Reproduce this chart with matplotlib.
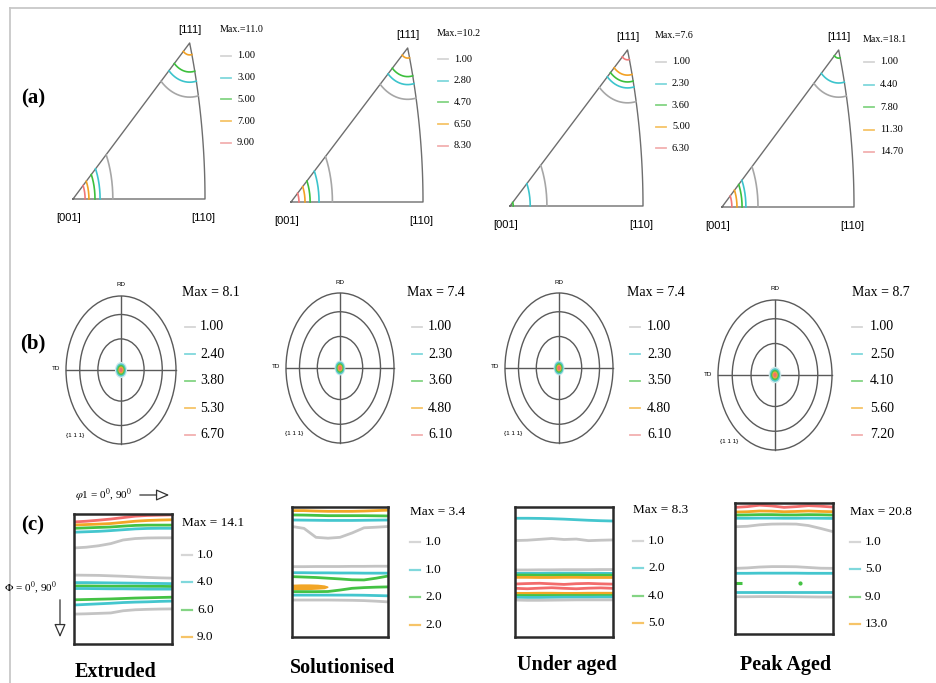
import numpy as np
import matplotlib
matplotlib.use('Agg')
import matplotlib.pyplot as plt
from matplotlib.patches import Ellipse

W, H = 936, 683
plt.rcParams['mathtext.fontset'] = 'stix'
SERIF = 'Liberation Serif'
SANS = 'Liberation Sans'

# ---- data ----
conditions = ['Extruded', 'Solutionised', 'Under aged', 'Peak Aged']

# (a) inverse pole figures [ND]
ipf_max = [11.0, 10.2, 7.6, 18.1]
ipf_levels = [[1.00, 3.00, 5.00, 7.00, 9.00],
              [1.00, 2.80, 4.70, 6.50, 8.30],
              [1.00, 2.30, 3.60, 5.00, 6.30],
              [1.00, 4.40, 7.80, 11.30, 14.70]]
# contour distance from the [001] and [111] poles (stereographic units), per level
ipf_r001 = [[0.125, 0.085, 0.069, 0.050, 0.038],
            [0.130, 0.088, 0.060, 0.044, 0.025],
            [0.115, 0.063, 0.010, None, None],
            [0.113, 0.075, 0.063, 0.047, 0.031]]
ipf_r111 = [[0.127, 0.092, 0.068, 0.028, None],
            [0.122, 0.087, 0.068, 0.024, None],
            [0.124, 0.089, 0.075, 0.059, 0.023],
            [0.110, 0.077, 0.019, None, None]]

# (b) {111} pole figures
pf_max = [8.1, 7.4, 7.4, 8.7]
pf_levels = [[1.00, 2.40, 3.80, 5.30, 6.70],
             [1.00, 2.30, 3.60, 4.80, 6.10],
             [1.00, 2.30, 3.50, 4.80, 6.10],
             [1.00, 2.50, 4.10, 5.60, 7.20]]
# size of the central intensity spot per level (fraction of the pole figure radius)
pf_spot = [[0.11, 0.090, 0.070, 0.048, 0.028],
           [0.10, 0.085, 0.065, 0.045, 0.028],
           [0.10, 0.085, 0.065, 0.045, 0.028],
           [0.11, 0.090, 0.070, 0.048, 0.028]]

# (c) ODF sections, contour lines as Phi (deg) at each phi1 (deg)
odf_max = [14.1, 3.4, 8.3, 20.8]
odf_levels = [[1.0, 4.0, 6.0, 9.0],
              [1.0, 1.0, 2.0, 2.0],
              [1.0, 2.0, 4.0, 5.0],
              [1.0, 5.0, 9.0, 13.0]]
phi1 = [0, 11.25, 22.5, 33.75, 45, 56.25, 67.5, 78.75, 90]

ext_lines = [
    (4, [5.5, 5.0, 4.3, 3.5, 2.5, 1.5, 1.0, 0.8, 0.6]),
    (3, [7.6, 7.3, 7.0, 6.6, 5.8, 5.0, 4.5, 4.2, 4.0]),
    (2, [9.9, 9.6, 9.3, 9.0, 8.4, 7.9, 7.7, 7.7, 7.7]),
    (1, [12.6, 12.3, 12.0, 11.5, 10.9, 10.3, 10.0, 9.9, 9.9]),
    (0, [23.5, 23.0, 22.0, 20.5, 18.0, 17.0, 16.6, 16.5, 16.5]),
    (0, [42.3, 42.4, 42.5, 42.8, 43.1, 43.5, 43.9, 44.2, 44.4]),
    (1, [47.5, 47.5, 47.6, 47.7, 47.8, 47.9, 48.0, 48.1, 48.2]),
    (2, [49.8, 49.8, 49.9, 50.0, 50.0, 50.0, 50.1, 50.1, 50.2]),
    (1, [51.6, 51.6, 51.7, 51.8, 51.8, 51.9, 52.0, 52.0, 52.0]),
    (2, [59.4, 59.2, 59.0, 58.8, 58.5, 58.2, 58.0, 57.8, 57.6]),
    (1, [63.0, 62.6, 62.2, 61.8, 61.3, 61.0, 60.8, 60.5, 60.3]),
    (0, [69.3, 69.1, 68.8, 68.5, 67.0, 66.3, 66.0, 65.8, 65.7]),
]
sol_lines = [
    (3, [2.5, 2.5, 2.8, 3.0, 3.0, 3.0, 2.8, 2.5, 2.2]),
    (2, [5.5, 5.6, 5.8, 6.0, 6.0, 6.0, 6.0, 6.1, 6.2]),
    (1, [9.0, 9.1, 9.2, 9.3, 9.3, 9.3, 9.2, 9.1, 9.0]),
    (0, [13.5, 14.8, 21.0, 21.6, 21.0, 18.0, 14.4, 14.0, 13.5]),
    (0, [41.3, 41.3, 41.2, 41.2, 41.2, 41.1, 41.1, 41.0, 41.0]),
    (1, [45.5, 45.5, 45.6, 45.6, 45.7, 45.7, 45.8, 45.8, 45.8]),
    (2, [48.2, 48.5, 48.8, 49.3, 49.8, 50.4, 50.5, 49.3, 47.8]),
    (2, [58.6, 58.6, 58.6, 58.5, 57.5, 56.3, 55.8, 55.5, 55.3]),
    (1, [61.0, 61.0, 61.0, 61.0, 61.0, 61.0, 61.1, 61.3, 61.5]),
    (0, [64.4, 64.4, 64.4, 64.4, 64.5, 64.6, 64.8, 65.2, 65.7]),
]
# closed level-4 region in the solutionised section
sol_spot_phi1 = [0, 8, 16, 24, 30, 33]
sol_spot_top = [54.0, 53.8, 53.8, 54.0, 54.5, 55.2]
sol_spot_bot = [56.8, 56.8, 56.6, 56.3, 56.0, 55.2]

ua_lines = [
    (1, [7.8, 7.8, 7.9, 8.1, 8.4, 8.8, 9.2, 9.5, 9.7]),
    (0, [23.2, 23.0, 22.4, 21.8, 22.5, 22.2, 23.3, 23.0, 22.8]),
    (0, [43.6, 43.6, 43.5, 43.5, 43.4, 43.4, 43.4, 43.3, 43.3]),
    (1, [45.9, 45.9, 45.9, 45.8, 45.8, 45.8, 45.9, 45.9, 46.0]),
    (2, [47.1, 47.1, 47.2, 47.2, 47.1, 47.1, 47.2, 47.2, 47.2]),
    (3, [48.7, 48.7, 48.8, 48.8, 48.7, 48.7, 48.8, 48.8, 48.8]),
    (4, [53.3, 53.0, 52.8, 53.2, 53.6, 53.1, 52.9, 53.2, 53.4]),
    (4, [56.3, 56.6, 56.2, 55.9, 56.3, 56.6, 56.2, 56.0, 56.3]),
    (3, [59.8, 59.8, 59.7, 59.7, 59.8, 59.8, 59.7, 59.7, 59.7]),
    (2, [60.9, 60.9, 60.9, 60.9, 60.9, 60.9, 60.9, 60.9, 60.9]),
    (1, [62.5, 62.6, 62.6, 62.5, 62.4, 62.4, 62.4, 62.3, 62.3]),
    (0, [64.4, 64.6, 64.6, 64.5, 64.4, 64.3, 64.3, 64.3, 64.3]),
]
pa_lines = [
    (4, [3.0, 2.5, 1.5, 2.0, 3.0, 2.5, 1.8, 2.2, 2.8]),
    (3, [6.2, 6.0, 5.5, 5.6, 6.0, 5.8, 5.5, 5.8, 6.0]),
    (2, [8.3, 8.2, 8.0, 8.0, 8.2, 8.2, 8.0, 8.1, 8.3]),
    (1, [10.5, 10.5, 10.4, 10.4, 10.5, 10.5, 10.4, 10.5, 10.6]),
    (0, [16.3, 16.0, 15.0, 14.5, 14.4, 14.5, 15.5, 17.5, 19.7]),
    (0, [44.9, 44.6, 44.0, 43.7, 43.7, 43.8, 44.3, 44.8, 44.9]),
    (1, [48.3, 48.3, 48.2, 48.2, 48.2, 48.2, 48.3, 48.3, 48.3]),
    (1, [61.0, 61.0, 61.0, 61.0, 61.0, 61.0, 61.0, 61.0, 61.0]),
    (0, [64.4, 64.4, 64.3, 64.3, 64.3, 64.4, 64.5, 64.6, 64.6]),
]
pa_spot_phi1 = [0, 6]
pa_spot_Phi = [55.2, 55.2]
pa_dot_phi1 = [60]
pa_dot_Phi = [55.2]

odf_lines = [ext_lines, sol_lines, ua_lines, pa_lines]

# ---- styles ----
line_cols = ['#a6a6a6', '#3cc4cc', '#3cbf3c', '#f2a124', '#f07878']
key_cols = ['#d6d6d6', '#80d8dc', '#84d484', '#f6c468', '#f2b0b0']
odf_cols = ['#c4c4c4', '#44c6ce', '#44c244', '#f2a626', '#f26c6c']

fig = plt.figure(figsize=(W / 100, H / 100), dpi=100)
bg = fig.add_axes([0, 0, 1, 1])
bg.set_xlim(0, W)
bg.set_ylim(H, 0)
bg.axis('off')


def px_axes(x0, y0, x1, y1):
    a = fig.add_axes([x0 / W, 1 - y1 / H, (x1 - x0) / W, (y1 - y0) / H])
    a.patch.set_visible(False)
    return a


# frame of the original figure
bg.plot([10, 10], [8, H], color='#c8c8c8', lw=1.3)
bg.plot([10, W], [8, 8], color='#c8c8c8', lw=1.3)

for lab, y in zip(['(a)', '(b)', '(c)'], [98, 343, 525]):
    bg.text(33, y, lab, family=SERIF, fontweight='bold', fontsize=15, ha='center', va='center')

# ---- (a) IPF ----
ipf_box = [(73, 43, 205, 199), (291, 48, 423, 202), (510, 50, 643, 206), (722, 50, 854, 207)]
ipf_key = [(220, 30, 56, 21.7), (437, 33, 59, 21.7), (655, 35, 62, 21.6), (863, 40, 62, 22.5)]

X110 = np.tan(np.pi / 8)
X111 = 1 / (np.sqrt(3) + 1)


def inside(x, y):
    d = 1 + x ** 2 + y ** 2
    X = 2 * x / d
    Z = (1 - x ** 2 - y ** 2) / d
    return (y >= -1e-9) & (y <= x + 1e-9) & (Z >= X - 1e-9)


th = np.linspace(0, 2 * np.pi, 2881)
t = np.linspace(0, 1, 80)
nn = np.sqrt(2 + t ** 2)
arc_x, arc_y = 1 / (nn + 1), t / (nn + 1)

for i in range(4):
    x0, y0, x1, y1 = ipf_box[i]
    ax = px_axes(x0, y0, x1, y1)
    ax.set_xlim(0, X110)
    ax.set_ylim(0, X111)
    ax.axis('off')
    ax.plot(np.r_[0, arc_x, 0], np.r_[0, arc_y, 0], color='#6e6e6e', lw=1.0, clip_on=False)
    # contours round [001] are stretched along the [001]-[111] edge
    for pole, radii, stretch in [((0, 0), ipf_r001[i], 1.5), ((X111, X111), ipf_r111[i], 1.0)]:
        for lvl, r in enumerate(radii):
            if r is None:
                continue
            cx = pole[0] + r * np.cos(th)
            cy = pole[1] + stretch * r * np.sin(th)
            m = inside(cx, cy)
            cx = np.where(m, cx, np.nan)
            cy = np.where(m, cy, np.nan)
            k = np.argmax(~m)
            ax.plot(np.roll(cx, -k), np.roll(cy, -k), color=line_cols[lvl], lw=1.2, clip_on=False)
    apex_x = x0 + (x1 - x0) * X111 / X110
    bg.text(apex_x, y0 - 13, '[111]', family=SANS, fontsize=8, ha='center', va='center')
    bg.text(x0 - 4, y1 + 19, '[001]', family=SANS, fontsize=8, ha='center', va='center')
    bg.text(x1 - 2, y1 + 19, '[110]', family=SANS, fontsize=8, ha='center', va='center')

    kx, ky_max, ky0, dy = ipf_key[i]
    bg.text(kx, ky_max, 'Max.=%.1f' % ipf_max[i], family=SERIF, fontsize=7.2, ha='left', va='center')
    for lvl, v in enumerate(ipf_levels[i]):
        yy = ky0 + lvl * dy
        bg.plot([kx + 1, kx + 11], [yy, yy], color=key_cols[lvl], lw=1.3)
        bg.text(kx + 17, yy, '%.2f' % v, family=SERIF, fontsize=7.4, ha='left', va='center')

# ---- (b) pole figures ----
pf_geo = [(121, 370, 55, 74), (340, 368, 54, 75), (559, 368, 54, 75), (775, 375, 57, 75)]
pf_key = [(182, 185, 200), (407, 412, 428), (627, 630, 647), (852, 852, 870)]
pf_key_y = [292, 327, 354, 381, 408, 435]

for i in range(4):
    cx, cy, rx, ry = pf_geo[i]
    ax = px_axes(cx - rx, cy - ry, cx + rx, cy + ry)
    ax.set_xlim(-1, 1)
    ax.set_ylim(-1, 1)
    ax.axis('off')
    for rr in [1.0, 0.75, 0.42]:
        ax.add_patch(Ellipse((0, 0), 2 * rr, 2 * rr, fill=False, ec='#5a5a5a', lw=1.0, clip_on=False))
    ax.plot([-1, 1], [0, 0], color='#5a5a5a', lw=1.0, clip_on=False)
    ax.plot([0, 0], [-1, 1], color='#5a5a5a', lw=1.0, clip_on=False)
    spot_cols = ['#cfe9ea', '#55c8cc', '#4cc24c', '#f2a33a', '#f07070']
    for lvl, r in enumerate(pf_spot[i]):
        ax.add_patch(Ellipse((0, 0), 2 * r, 2 * r, fc=spot_cols[lvl], ec='none', zorder=3))
    bg.text(cx, cy - ry - 11, 'RD', family=SANS, fontsize=4.5, ha='center', va='center')
    bg.text(cx - rx - 10, cy - 1, 'TD', family=SANS, fontsize=4.5, ha='center', va='center')
    bg.text(cx - 46, cy + 66, '{1 1 1}', family=SANS, fontsize=4.5, ha='center', va='center')

    mx, lx, tx = pf_key[i]
    bg.text(mx, pf_key_y[0], 'Max = %.1f' % pf_max[i], family=SERIF, fontsize=10, ha='left', va='center')
    for lvl, v in enumerate(pf_levels[i]):
        yy = pf_key_y[lvl + 1]
        bg.plot([lx, lx + 10], [yy, yy], color=key_cols[lvl], lw=1.3)
        bg.text(tx, yy, '%.2f' % v, family=SERIF, fontsize=10, ha='left', va='center')

# ---- (c) ODF sections ----
odf_box = [(74, 514, 172, 644), (292, 507, 388, 637), (515, 507, 613, 637), (735, 503, 833, 634)]
odf_key = [(182, 523, 555, 27.3), (410, 512, 542, 27.7), (633, 510, 541, 27.3), (850, 512, 542, 27.3)]
cond_x = [116, 343, 567, 786]
cond_y = [672, 668, 665, 665]

for i in range(4):
    x0, y0, x1, y1 = odf_box[i]
    ax = px_axes(x0, y0, x1, y1)
    ax.set_xlim(0, 90)
    ax.set_ylim(90, 0)
    ax.set_xticks([])
    ax.set_yticks([])
    for s in ax.spines.values():
        s.set_color('#2a2a2a')
        s.set_linewidth(1.8)
    for lvl, vals in odf_lines[i]:
        ax.plot(phi1, vals, color=odf_cols[lvl], lw=2.0, solid_capstyle='butt')
    if i == 1:
        ax.fill_between(sol_spot_phi1, sol_spot_top, sol_spot_bot, color=odf_cols[3], lw=1.2, ec=odf_cols[3])
    if i == 3:
        ax.plot(pa_spot_phi1, pa_spot_Phi, color=odf_cols[2], lw=2.2, solid_capstyle='butt')
        ax.plot(pa_dot_phi1, pa_dot_Phi, 'o', color=odf_cols[2], ms=2)

    kx, ky_max, ky0, dy = odf_key[i]
    bg.text(kx, ky_max, 'Max = %.1f' % odf_max[i], family=SERIF, fontsize=9.5, ha='left', va='center')
    for lvl, v in enumerate(odf_levels[i]):
        yy = ky0 + lvl * dy
        bg.plot([kx, kx + 10], [yy, yy], color=key_cols[lvl], lw=1.6)
        bg.text(kx + 15, yy, '%.1f' % v, family=SERIF, fontsize=9.5, ha='left', va='center')

    bg.text(cond_x[i], cond_y[i], conditions[i], family=SERIF, fontweight='bold',
            fontsize=14.5, ha='center', va='center')

# axis annotations of the first ODF section
bg.text(75, 495, r'$\varphi$1 = 0$^0$, 90$^0$', family=SERIF, fontsize=8, ha='left', va='center')
bg.annotate('', xy=(172, 495), xytext=(137, 495),
            arrowprops=dict(arrowstyle='-|>,head_length=0.8,head_width=0.35', fc='white', ec='#333333', lw=0.9))
bg.text(4, 588, r'$\Phi$ = 0$^0$, 90$^0$', family=SERIF, fontsize=8, ha='left', va='center')
bg.annotate('', xy=(60, 640), xytext=(60, 597),
            arrowprops=dict(arrowstyle='-|>,head_length=0.8,head_width=0.35', fc='white', ec='#333333', lw=0.9))

fig.savefig('out.png', dpi=100)
